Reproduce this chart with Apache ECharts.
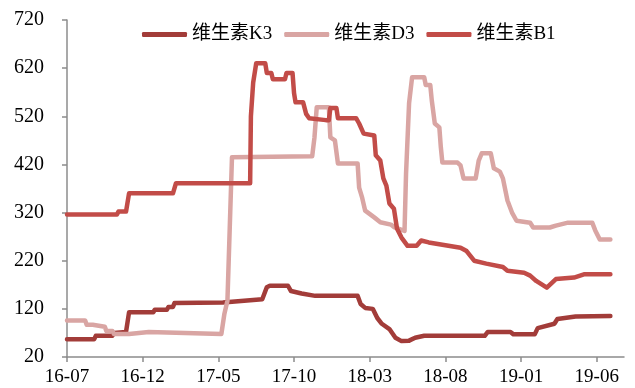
<!DOCTYPE html>
<html>
<head>
<meta charset="utf-8">
<script src="https://cdn.jsdelivr.net/npm/echarts@6/dist/echarts.min.js"></script>
<style>
  html, body { margin: 0; padding: 0; background: #fff; }
  #chart { width: 635px; height: 388px; }
</style>
</head>
<body>
<div id="chart"></div>
<script>
// x = months since 2016-07, y = price
const seriesNames = ["维生素K3", "维生素D3", "维生素B1"];
const xTickMonths = [0, 5, 10, 15, 20, 25, 30, 35];
const yTicks = [20, 120, 220, 320, 420, 520, 620, 720];

const k3Data = [
  [0, 57], [1.8, 57], [1.9, 64], [3.0, 64], [3.1, 70], [3.9, 72], [4.1, 113], [5.7, 113],
  [5.8, 118], [6.6, 118], [6.7, 124], [7.0, 124], [7.1, 132], [10.3, 133], [10.4, 137],
  [12.9, 140], [13.2, 165], [13.4, 168], [14.6, 168], [14.8, 157], [15.5, 152], [16.4, 147],
  [19.2, 147], [19.4, 130], [19.7, 122], [20.2, 120], [20.5, 101], [20.8, 89], [21.3, 78],
  [21.7, 60], [22.1, 53], [22.6, 54], [23.0, 60], [23.6, 64], [27.6, 64], [27.8, 72],
  [29.3, 72], [29.5, 67], [30.9, 67], [31.1, 80], [32.2, 89], [32.4, 99], [33.6, 104], [35.9, 105]
];

const d3Data = [
  [0, 96], [1.2, 96], [1.3, 87], [1.7, 87], [1.8, 83], [2.5, 83], [2.6, 74], [3.0, 74],
  [3.1, 68], [4.1, 68], [4.2, 72], [5.4, 72], [5.5, 68], [10.2, 68], [10.4, 110], [10.6, 137],
  [10.9, 435], [16.2, 437], [16.35, 476], [16.5, 539], [17.3, 539], [17.4, 476], [17.7, 470],
  [17.9, 422], [19.2, 422], [19.3, 372], [19.5, 351], [19.7, 324], [20.3, 310], [20.7, 300],
  [21.4, 295], [21.6, 290], [22.3, 282], [22.4, 401], [22.6, 547], [22.8, 601], [23.6, 601],
  [23.7, 585], [24.0, 585], [24.1, 553], [24.3, 505], [24.6, 497], [24.7, 455], [24.8, 424],
  [25.8, 424], [26.0, 418], [26.2, 391], [27.0, 391], [27.2, 428], [27.4, 443], [28.0, 443],
  [28.2, 412], [28.6, 405], [28.8, 391], [29.1, 345], [29.4, 320], [29.7, 303], [30.6, 299],
  [30.8, 289], [31.9, 289], [32.3, 293], [33.1, 299], [34.7, 299], [34.9, 283], [35.2, 264], [35.9, 264]
];

const b1Data = [
  [0, 316], [3.3, 316], [3.4, 322], [3.9, 322], [4.1, 360], [7.0, 360], [7.2, 381], [12.1, 381],
  [12.15, 520], [12.3, 590], [12.5, 630], [13.1, 630], [13.2, 610], [13.5, 610], [13.6, 597],
  [14.4, 597], [14.5, 610], [14.9, 610], [15.0, 568], [15.1, 549], [15.6, 549], [15.8, 525],
  [16.0, 516], [17.1, 512], [17.3, 512], [17.4, 537], [17.8, 537], [17.9, 516], [19.1, 516],
  [19.3, 505], [19.6, 484], [19.7, 480], [20.3, 480], [20.4, 439], [20.7, 428], [20.9, 391],
  [21.1, 376], [21.3, 339], [21.6, 328], [21.8, 287], [22.1, 268], [22.5, 251], [23.1, 251],
  [23.4, 262], [23.9, 258], [25.2, 251], [26.0, 247], [26.4, 240], [26.9, 220], [27.7, 214],
  [28.8, 207], [29.1, 199], [30.2, 195], [30.6, 189], [31.0, 178], [31.7, 164], [32.3, 182],
  [33.5, 185], [34.2, 192], [35.9, 192]
];

const colorList = ["#A23C39", "#D9A5A3", "#C24C48"];
const fontFamily = "'Liberation Serif', 'Noto Sans CJK SC', serif";

function monthLabel(m) {
  const idx = 6 + Math.round(m);
  const yy = 16 + Math.floor(idx / 12);
  const mm = (idx % 12) + 1;
  return yy + "-" + (mm < 10 ? "0" + mm : mm);
}

function makeLine(name, data, color) {
  return {
    name: name,
    type: "line",
    data: data,
    showSymbol: false,
    symbol: "none",
    lineStyle: { width: 4.5, color: color, cap: "round", join: "round" },
    itemStyle: { color: color }
  };
}

const chart = echarts.init(document.getElementById("chart"));
chart.setOption({
  animation: false,
  color: colorList,
  textStyle: { fontFamily: fontFamily },
  legend: {
    left: 137,
    top: 20,
    itemWidth: 45,
    itemHeight: 5,
    itemGap: 12,
    icon: "roundRect",
    textStyle: { fontSize: 19, color: "#000", fontFamily: fontFamily },
    data: seriesNames
  },
  grid: {
    left: 67,
    right: 11,
    top: 20,
    bottom: 31,
    containLabel: false,
    outerBoundsMode: "none"
  },
  xAxis: {
    type: "value",
    min: 0,
    max: 36.8,
    splitLine: { show: false },
    axisLine: { lineStyle: { color: "#8c8c8c", width: 1.5 } },
    axisTick: { show: true, length: 5, customValues: xTickMonths, lineStyle: { color: "#8c8c8c", width: 1.5 } },
    axisLabel: {
      customValues: xTickMonths,
      formatter: function (v) { return monthLabel(v); },
      fontSize: 19,
      color: "#000",
      margin: 11,
      fontFamily: fontFamily
    }
  },
  yAxis: {
    type: "value",
    min: 20,
    max: 720,
    splitLine: { show: false },
    axisLine: { show: true, lineStyle: { color: "#8c8c8c", width: 1.5 } },
    axisTick: { show: true, length: 5, customValues: yTicks, lineStyle: { color: "#8c8c8c", width: 1.5 } },
    axisLabel: {
      customValues: yTicks,
      fontSize: 20,
      color: "#000",
      margin: 23,
      fontFamily: fontFamily
    }
  },
  series: [
    makeLine(seriesNames[0], k3Data, colorList[0]),
    makeLine(seriesNames[1], d3Data, colorList[1]),
    makeLine(seriesNames[2], b1Data, colorList[2])
  ]
});
</script>
</body>
</html>
